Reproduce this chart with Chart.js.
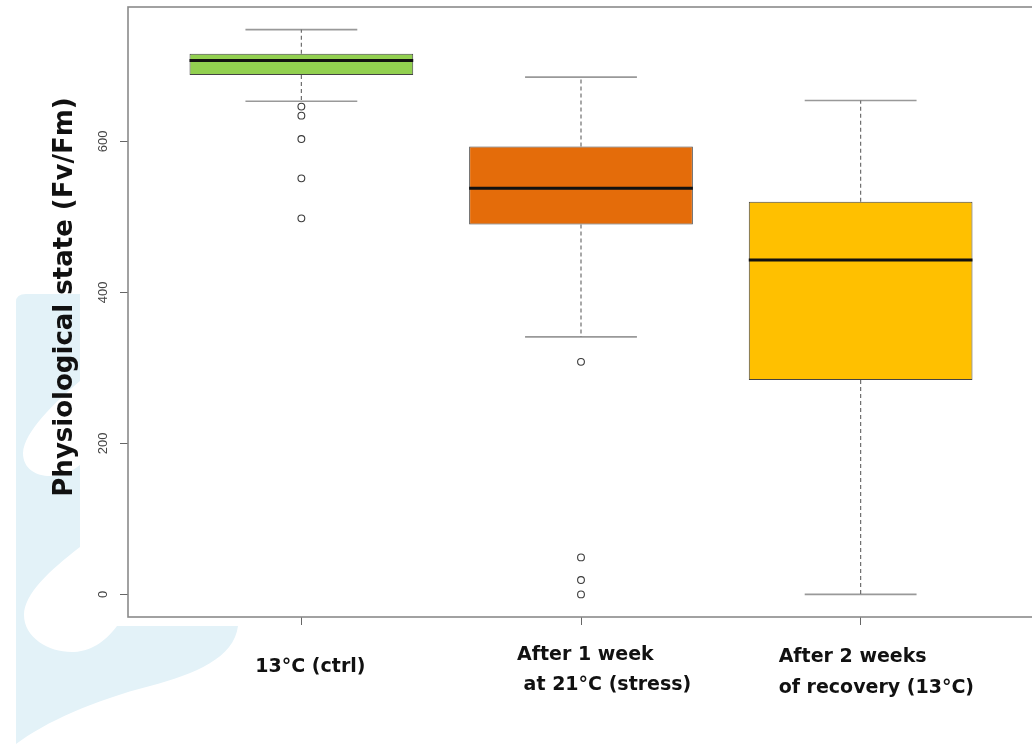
<!DOCTYPE html>
<html>
<head>
<meta charset="utf-8">
<title>Physiological state by treatment</title>
<script src="https://cdn.jsdelivr.net/npm/chart.js@4.4.0/dist/chart.umd.min.js"></script>
<style>
  html, body { margin: 0; padding: 0; background: #fff; overflow: hidden; }
  #wrap { position: relative; width: 1040px; height: 744px; }
</style>
</head>
<body>
<div id="wrap"><canvas id="boxChart"></canvas></div>
<script>
// Fv/Fm per treatment group (box plot summary)
const treatmentLines = [
  ['13°C (ctrl)'],
  ['After 1 week', ' at 21°C (stress)'],
  ['After 2 weeks', 'of recovery (13°C)']
];
const whiskerLow  = [653, 341, 0];
const q1          = [688, 490, 284];
const median      = [707, 538, 443];
const q3          = [716, 593, 520];
const whiskerHigh = [748, 685, 654];
const outliers    = [[646, 634, 603, 551, 498], [308, 49, 19, 0], []];
const boxColors   = ['#92d050', '#e46c0a', '#ffc000'];
const yTicks      = [0, 200, 400, 600];
const yMin = -29.9, yMax = 777.9;

// layout / style
const BOX_HALF = 0.4, CAP_HALF = 0.2;
const labelDx = [-46, -64, -82];
const labelDy = [[50], [38, 68], [40, 71]];
const FRAME = '#8a8a8a';

const xPos = treatmentLines.map((_, i) => i + 1);

const boxData = xPos.map((x, i) => ({ x, y: [q1[i], q3[i]] }));

const whiskerData = [];
const capData = [];
const medianData = [];
xPos.forEach((x, i) => {
  whiskerData.push({ x, y: q3[i] }, { x, y: whiskerHigh[i] }, { x, y: null },
                   { x, y: q1[i] }, { x, y: whiskerLow[i] }, { x, y: null });
  capData.push({ x: x - CAP_HALF, y: whiskerHigh[i] }, { x: x + CAP_HALF, y: whiskerHigh[i] }, { x, y: null },
               { x: x - CAP_HALF, y: whiskerLow[i] }, { x: x + CAP_HALF, y: whiskerLow[i] }, { x, y: null });
  medianData.push({ x: x - BOX_HALF, y: median[i] }, { x: x + BOX_HALF, y: median[i] }, { x, y: null });
});

const outlierData = [];
outliers.forEach((list, i) => list.forEach(v => outlierData.push({ x: xPos[i], y: v })));

// light blue backdrop shape on the left edge
const backdrop = {
  id: 'backdrop',
  beforeDraw(chart) {
    const ctx = chart.ctx;
    ctx.save();
    ctx.fillStyle = '#e3f2f8';
    ctx.beginPath();
    ctx.moveTo(16, 744);
    ctx.lineTo(16, 302);
    ctx.quadraticCurveTo(16, 294, 26, 294);
    ctx.lineTo(80, 294);
    ctx.lineTo(80, 381);
    ctx.bezierCurveTo(55, 402, 24, 432, 23, 453);
    ctx.bezierCurveTo(23, 470, 38, 477, 53, 476);
    ctx.bezierCurveTo(64, 475, 74, 470, 80, 465);
    ctx.lineTo(80, 547);
    ctx.bezierCurveTo(50, 570, 24, 594, 24, 615);
    ctx.bezierCurveTo(24, 638, 50, 653, 74, 652);
    ctx.bezierCurveTo(94, 651, 108, 638, 117, 626);
    ctx.lineTo(238, 626);
    ctx.bezierCurveTo(234, 658, 195, 674, 150, 686);
    ctx.bezierCurveTo(95, 700, 45, 722, 16, 744);
    ctx.closePath();
    ctx.fill();
    ctx.restore();
  }
};

// plot frame, axis title and group labels
const annotations = {
  id: 'annotations',
  afterDatasetsDraw(chart) {
    const { ctx, chartArea: a, scales: { x } } = chart;
    ctx.save();
    ctx.strokeStyle = FRAME;
    ctx.lineWidth = 1.6;
    ctx.strokeRect(a.left, a.top, a.right - a.left, a.bottom - a.top);

    ctx.fillStyle = '#111';
    ctx.font = 'bold 26px "DejaVu Sans"';
    ctx.textAlign = 'center';
    ctx.textBaseline = 'middle';
    ctx.translate(a.left - 63, (a.top + a.bottom) / 2 - 15);
    ctx.rotate(-Math.PI / 2);
    ctx.fillText('Physiological state (Fv/Fm)', 0, 0);
    ctx.restore();

    ctx.save();
    ctx.fillStyle = '#111';
    ctx.font = 'bold 19px "DejaVu Sans"';
    ctx.textAlign = 'left';
    ctx.textBaseline = 'middle';
    treatmentLines.forEach((lines, i) => {
      const px = x.getPixelForValue(xPos[i]) + labelDx[i];
      lines.forEach((t, j) => ctx.fillText(t, px, a.bottom + labelDy[i][j]));
    });
    ctx.restore();
  }
};

new Chart(document.getElementById('boxChart'), {
  type: 'bar',
  data: {
    datasets: [
      {
        type: 'bar',
        data: boxData,
        backgroundColor: boxColors,
        borderColor: '#444',
        borderWidth: 1,
        borderSkipped: false,
        barPercentage: 0.8,
        categoryPercentage: 1,
        order: 3
      },
      {
        type: 'line',
        data: whiskerData,
        borderColor: '#6e6e6e',
        borderWidth: 1.2,
        borderDash: [4, 3],
        pointRadius: 0,
        spanGaps: false,
        order: 2
      },
      {
        type: 'line',
        data: capData,
        borderColor: '#999',
        borderWidth: 1.6,
        pointRadius: 0,
        spanGaps: false,
        order: 2
      },
      {
        type: 'line',
        data: medianData,
        borderColor: '#111',
        borderWidth: 3,
        pointRadius: 0,
        spanGaps: false,
        order: 1
      },
      {
        type: 'scatter',
        data: outlierData,
        pointStyle: 'circle',
        pointRadius: 3.4,
        borderWidth: 1.1,
        borderColor: '#3a3a3a',
        backgroundColor: 'rgba(255,255,255,0)',
        order: 0
      }
    ]
  },
  options: {
    responsive: true,
    maintainAspectRatio: false,
    animation: false,
    layout: { padding: { left: 0, top: 7, right: 6, bottom: 0 } },
    plugins: {
      legend: { display: false },
      tooltip: { enabled: false }
    },
    scales: {
      x: {
        type: 'linear',
        min: 0.38,
        max: 3.62,
        offset: false,
        border: { display: false },
        grid: { display: true, offset: false, drawOnChartArea: false, drawTicks: true, tickLength: 8, color: '#666' },
        ticks: { display: false },
        afterBuildTicks: s => { s.ticks = xPos.map(v => ({ value: v })); },
        afterFit: s => { s.height = 127; s.paddingLeft = 0; s.paddingRight = 0; }
      },
      y: {
        type: 'linear',
        min: yMin,
        max: yMax,
        border: { display: false },
        grid: { display: true, drawOnChartArea: false, drawTicks: true, tickLength: 8, color: '#666' },
        ticks: {
          minRotation: 90,
          maxRotation: 90,
          crossAlign: 'center',
          padding: 6,
          color: '#444',
          font: { family: '"Liberation Sans"', size: 13 },
          callback: v => String(v)
        },
        afterBuildTicks: s => { s.ticks = yTicks.map(v => ({ value: v })); },
        afterFit: s => { s.width = 128; s.paddingTop = 0; s.paddingBottom = 0; }
      }
    }
  },
  plugins: [backdrop, annotations]
});
</script>
</body>
</html>
